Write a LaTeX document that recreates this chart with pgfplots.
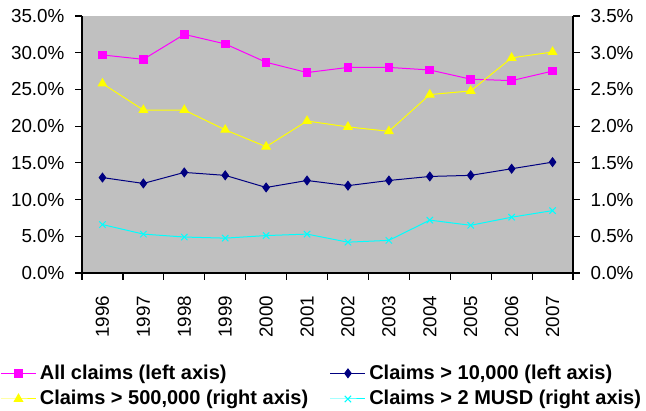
\documentclass[border=0pt]{standalone}
\usepackage{pgfplots}
\pgfplotsset{compat=1.18}
\usepackage{fontspec}
\setmainfont{Liberation Sans}
\definecolor{bgc}{HTML}{C0C0C0}
\definecolor{cmag}{HTML}{FF00FF}
\definecolor{cnavy}{HTML}{000080}
\definecolor{cyel}{HTML}{FFFF00}
\definecolor{ccyan}{HTML}{00FFFF}
\pgfplotsset{
  base/.style={
    scale only axis, width=294.6pt, height=154.2pt,
    xmin=-0.5, xmax=11.5, ymin=0,
    font=\fontsize{11.3}{13}\selectfont,
    /pgf/number format/assume math mode=true,
    axis line style={black, line width=0.7pt},
    tick style={black, line width=0.7pt},
    major tick length=4pt, minor tick length=4pt,
    tick align=outside,
  }
}
\begin{document}
\begin{tikzpicture}
\begin{axis}[base,
  axis background/.style={fill=bgc},
  ymax=35,
  axis y line*=left,
  axis x line*=bottom,
  ytick={0,5,...,35},
  yticklabel={\pgfmathprintnumber[fixed,fixed zerofill,precision=1]{\tick}\%},
  xtick={0,...,11},
  xticklabels={1996,1997,1998,1999,2000,2001,2002,2003,2004,2005,2006,2007},
  major x tick style={draw=none},
  minor xtick={-0.5,0.5,...,11.5},
  xticklabel style={rotate=90, anchor=east, yshift=0pt, xshift=-6pt},
  yticklabel style={xshift=-3pt},
  clip=false,
]
\addplot[cmag, line width=0.6pt, mark=square*, mark size=2.3pt, mark options={fill=cmag}] coordinates {
(0,29.7)(1,29.1)(2,32.5)(3,31.2)(4,28.7)(5,27.3)(6,28.0)(7,28.0)(8,27.65)(9,26.4)(10,26.2)(11,27.5)};
\addplot[cnavy, line width=0.6pt, mark=diamond*, mark size=2.6pt, mark options={fill=cnavy}] coordinates {
(0,13.0)(1,12.2)(2,13.7)(3,13.3)(4,11.65)(5,12.6)(6,11.9)(7,12.6)(8,13.15)(9,13.3)(10,14.2)(11,15.1)};
\end{axis}
\begin{axis}[base,
  ymax=3.5,
  axis y line*=right,
  axis x line=none,
  ytick={0,0.5,...,3.5},
  yticklabel={\pgfmathprintnumber[fixed,fixed zerofill,precision=1]{\tick}\%},
  yticklabel style={xshift=3pt},
  legend columns=2,
  legend cell align=left,
  legend style={at={(rel axis cs:-0.1667,-0.343)}, anchor=north west, draw=none, fill=none,
    inner sep=0pt,
    font=\fontsize{12}{14}\selectfont\bfseries, row sep=1.2pt,
    /tikz/every even column/.append style={column sep=11pt}},
  legend image code/.code={\draw[mark repeat=2,mark phase=2,#1] plot coordinates {(0pt,0pt)(10.5pt,0pt)(21pt,0pt)};},
  clip=false,
]
\addlegendimage{cmag, line width=0.6pt, mark=square*, mark size=2.2pt, mark options={fill=cmag}}
\addlegendentry{All claims (left axis)}
\addlegendimage{cnavy, line width=0.6pt, mark=diamond*, mark size=2.6pt, mark options={fill=cnavy}}
\addlegendentry{Claims > 10,000 (left axis)}
\addplot[cyel, line width=0.6pt, mark=triangle*, mark size=2.9pt, mark options={fill=cyel}] coordinates {
(0,2.58)(1,2.22)(2,2.22)(3,1.95)(4,1.72)(5,2.07)(6,1.99)(7,1.93)(8,2.43)(9,2.48)(10,2.93)(11,3.01)};
\addlegendentry{Claims > 500,000 (right axis)}
\addplot[ccyan, line width=0.6pt, mark=x, mark size=2.7pt] coordinates {
(0,0.66)(1,0.53)(2,0.49)(3,0.475)(4,0.51)(5,0.53)(6,0.42)(7,0.445)(8,0.72)(9,0.65)(10,0.76)(11,0.85)};
\addlegendentry{Claims > 2 MUSD (right axis)}
\path (rel axis cs:-0.16701,-0.5292) rectangle (rel axis cs:1.14868,1.0623);
\end{axis}
\end{tikzpicture}
\end{document}
